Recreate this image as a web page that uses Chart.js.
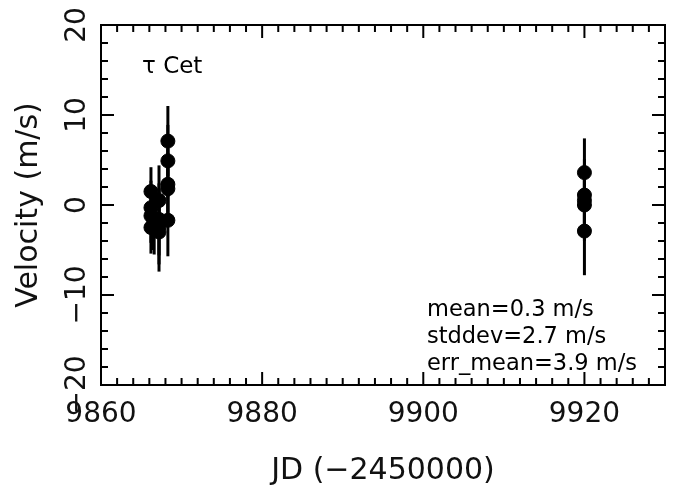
<!DOCTYPE html>
<html>
<head>
<meta charset="utf-8">
<script src="https://cdn.jsdelivr.net/npm/chart.js@4/dist/chart.umd.min.js"></script>
<style>
  html, body { margin: 0; padding: 0; background: #fff; }
  #wrap { width: 673px; height: 489px; }
</style>
</head>
<body>
<div id="wrap"><canvas id="rv"></canvas></div>
<script>
// ===== Data (tau Cet radial velocities) =====
const jd  = [9866.2, 9866.2, 9866.2, 9866.2, 9866.5, 9866.6,
             9867.2, 9867.2, 9867.2, 9867.2,
             9868.3, 9868.3, 9868.3, 9868.3, 9868.3,
             9920, 9920, 9920, 9920, 9920];
const vel = [1.5, -0.3, -1.2, -2.5, -1.5, -2.0,
             0.5, -1.6, -2.4, -3.0,
             7.1, 4.9, 2.3, 1.8, -1.7,
             3.6, 1.1, 0.5, 0.0, -2.9];
const err = [2.7, 3.0, 3.0, 2.9, 3.5, 3.5,
             3.9, 4.0, 4.2, 4.4,
             3.9, 4.0, 4.0, 4.0, 4.0,
             3.8, 4.0, 4.0, 4.0, 4.9];

const xTickLabels = [9860, 9880, 9900, 9920];
const yTickLabels = [-20, -10, 0, 10, 20];
const starLabel = 'τ Cet';
const statLines = ['mean=0.3 m/s', 'stddev=2.7 m/s', 'err_mean=3.9 m/s'];

const points = jd.map((x, i) => ({ x: x, y: vel[i] }));
const FONT = "'DejaVu Sans', sans-serif";

// ===== Error bars, frame, inward ticks, notes =====
const plotExtras = {
  id: 'plotExtras',
  beforeDatasetsDraw(chart) {
    const { ctx, scales: { x, y } } = chart;
    ctx.save();
    ctx.strokeStyle = '#000';
    ctx.lineWidth = 3;
    jd.forEach((j, i) => {
      const px = x.getPixelForValue(j);
      ctx.beginPath();
      ctx.moveTo(px, y.getPixelForValue(vel[i] + err[i]));
      ctx.lineTo(px, y.getPixelForValue(vel[i] - err[i]));
      ctx.stroke();
    });
    ctx.restore();
  },
  afterDraw(chart) {
    const { ctx, chartArea: a, scales: { x, y } } = chart;
    ctx.save();
    ctx.strokeStyle = '#000';
    ctx.lineWidth = 2;
    ctx.strokeRect(a.left, a.top, a.right - a.left, a.bottom - a.top);

    ctx.beginPath();
    for (let v = x.min; v <= x.max; v += 2) {
      const px = x.getPixelForValue(v);
      const len = v % 20 === 0 ? 13 : 7;
      ctx.moveTo(px, a.bottom); ctx.lineTo(px, a.bottom - len);
      ctx.moveTo(px, a.top);    ctx.lineTo(px, a.top + len);
    }
    for (let v = y.min; v <= y.max; v += 2) {
      const py = y.getPixelForValue(v);
      const len = v % 10 === 0 ? 13 : 7;
      ctx.moveTo(a.left, py);  ctx.lineTo(a.left + len, py);
      ctx.moveTo(a.right, py); ctx.lineTo(a.right - len, py);
    }
    ctx.stroke();

    ctx.fillStyle = '#000';
    ctx.textBaseline = 'middle';
    ctx.textAlign = 'left';
    ctx.font = '23px ' + FONT;
    ctx.fillText(starLabel, a.left + 41, a.top + 42);
    ctx.font = '22.5px ' + FONT;
    statLines.forEach((t, i) => {
      ctx.fillText(t, a.left + 326, a.top + 285 + i * 27);
    });
    ctx.restore();
  }
};

new Chart(document.getElementById('rv'), {
  type: 'scatter',
  data: {
    datasets: [{
      data: points,
      backgroundColor: '#000',
      borderColor: '#000',
      pointRadius: 7,
      pointHoverRadius: 7
    }]
  },
  options: {
    responsive: true,
    maintainAspectRatio: false,
    animation: false,
    layout: { padding: { top: 25, right: 1, left: 0, bottom: 0 } },
    plugins: { legend: { display: false }, tooltip: { enabled: false } },
    scales: {
      x: {
        type: 'linear',
        min: 9860, max: 9930,
        afterBuildTicks: s => { s.ticks = xTickLabels.map(v => ({ value: v })); },
        afterFit: s => { s.height = 104; s.paddingLeft = 0; s.paddingRight = 0; },
        grid: { display: false, drawTicks: false },
        border: { display: false },
        ticks: {
          color: '#111', padding: 13, maxRotation: 0, autoSkip: false,
          font: { family: FONT, size: 28 },
          callback: v => String(v)
        },
        title: {
          display: true, text: 'JD (−2450000)', color: '#111',
          font: { family: FONT, size: 30 }, padding: { top: 4, bottom: 0 }
        }
      },
      y: {
        type: 'linear',
        min: -20, max: 20,
        afterBuildTicks: s => { s.ticks = yTickLabels.map(v => ({ value: v })); },
        afterFit: s => { s.width = 101; s.paddingTop = 0; s.paddingBottom = 0; },
        grid: { display: false, drawTicks: false },
        border: { display: false },
        ticks: {
          color: '#111', padding: -6, minRotation: 90, maxRotation: 90,
          crossAlign: 'center', autoSkip: false,
          font: { family: FONT, size: 28 },
          callback: v => String(v).replace('-', '−')
        },
        title: {
          display: true, text: 'Velocity (m/s)', color: '#111',
          font: { family: FONT, size: 30 }, padding: { top: 11, bottom: 0 }
        }
      }
    }
  },
  plugins: [plotExtras]
});
</script>
</body>
</html>
